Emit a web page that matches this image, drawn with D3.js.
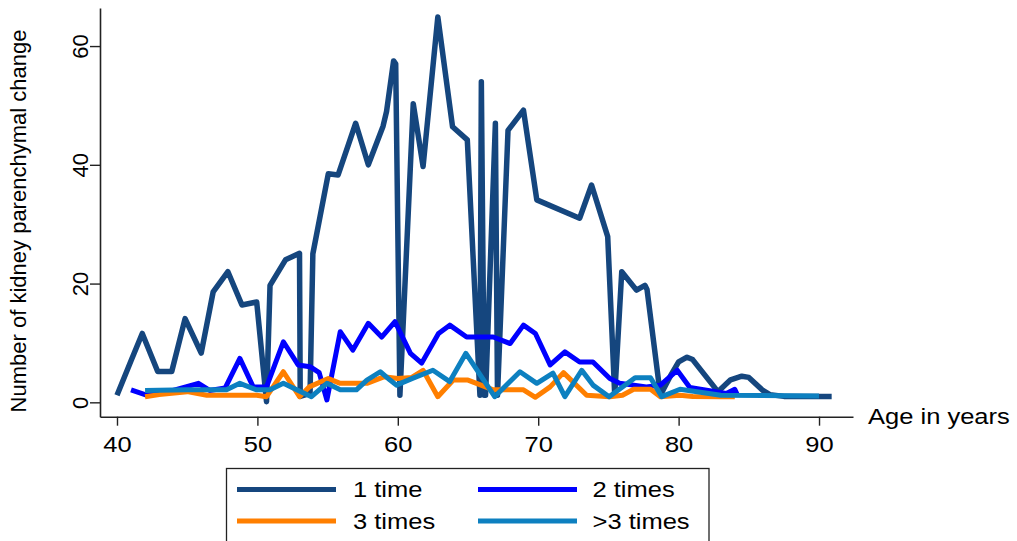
<!DOCTYPE html>
<html>
<head>
<meta charset="utf-8">
<script src="https://cdn.jsdelivr.net/npm/d3@7"></script>
<style>
  html, body { margin: 0; padding: 0; background: #ffffff; }
  svg { display: block; font-family: "Liberation Sans", Arial, Helvetica, sans-serif; }
</style>
</head>
<body>
<svg id="chart" width="1017" height="541"></svg>
<script>
// ---- data ----
const seriesNames = ["1 time", "2 times", "3 times", ">3 times"];

const ages1 = [40, 41, 41.8, 42.9, 43.9, 44.85, 46.0, 46.85, 47.9, 48.9, 49.95, 50.65, 50.9, 52.0, 53.0, 53.05, 53.75, 53.95, 55.05, 55.75, 57.0, 57.9, 58.95, 59.2, 59.7, 59.85, 60.15, 61.1, 61.8, 62.85, 63.9, 64.95, 65.85, 65.95, 66.15, 66.25, 66.95, 67.1, 67.85, 68.95, 69.9, 72.95, 73.8, 74.95, 75.45, 75.95, 77.0, 77.6, 77.75, 78.7, 79.5, 80.0, 80.6, 81.0, 82.8, 83.7, 84.5, 85.0, 86.0, 86.5, 87.5, 90.9];
const counts1 = [1.2, 7, 11.6, 5.2, 5.2, 14.1, 8.3, 18.6, 22, 16.4, 16.9, 0.1, 19.7, 24, 25.1, 1, 1.5, 25, 38.5, 38.3, 47, 40, 46.5, 49, 57.5, 57, 1.2, 50.3, 39.7, 64.9, 46.4, 44.2, 1.2, 54, 1.2, 1.2, 47, 1.2, 45.8, 49.2, 34.1, 31, 36.6, 27.9, 1.2, 22, 18.9, 19.7, 19, 1.2, 4.8, 6.8, 7.6, 7.2, 1.8, 3.8, 4.4, 4.2, 2, 1.3, 1, 1];

const ages2 = [41, 42.1, 44, 45.8, 46.6, 47.7, 48.75, 49.7, 50.65, 51.85, 52.9, 53.75, 54.4, 54.95, 55.9, 56.8, 57.9, 58.85, 59.8, 60.9, 61.7, 62.9, 63.7, 64.9, 66.8, 68.0, 68.95, 69.8, 70.85, 71.9, 72.95, 73.9, 75.1, 75.8, 77.7, 78.7, 79.9, 80.8, 83.4, 84.0, 84.2];
const counts2 = [2.1, 1.2, 2, 3.2, 2, 2.4, 7.4, 2.6, 2.6, 10.2, 6.3, 6, 5, 0.4, 11.9, 8.8, 13.3, 11, 13.6, 8.25, 6.6, 11.6, 13, 11, 11, 9.9, 13, 11.6, 6.3, 8.5, 6.8, 6.8, 4, 3.2, 2.6, 2.9, 5.4, 2.5, 1.5, 2.2, 1.2];

const ages3 = [42, 43, 45, 46.4, 49.95, 50.65, 51.85, 53.0, 53.7, 55.05, 55.9, 57.8, 59, 60, 61, 61.8, 62.85, 63.95, 65, 66.8, 68.95, 69.8, 70.85, 71.8, 73.45, 75.1, 76, 76.8, 78, 78.7, 80.1, 81, 83, 84];
const counts3 = [0.95, 1.3, 1.8, 1.2, 1.2, 0.95, 5.15, 0.95, 2.6, 4, 3.2, 3.2, 4.3, 4, 4.2, 5.4, 0.95, 3.75, 3.75, 2.1, 2.1, 0.85, 2.6, 5, 1.2, 0.95, 1.2, 2.2, 2.2, 0.95, 1.2, 1.0, 0.95, 0.95];

const ages4 = [42, 45, 47.8, 48.75, 49.95, 50.9, 51.85, 52.8, 53.85, 54.95, 55.9, 57.05, 57.8, 58.75, 59.45, 59.9, 61, 62.5, 63.7, 64.85, 66.9, 68.7, 69.9, 71.05, 71.9, 73.1, 73.9, 75.05, 76.9, 78, 78.8, 80.1, 83, 90];
const counts4 = [2, 2.1, 2.1, 3.2, 2.1, 2.1, 3.2, 2.1, 0.95, 3.2, 2.1, 2.1, 3.75, 5.15, 3.75, 2.9, 4, 5.4, 3.5, 8.25, 0.95, 5.15, 3.2, 4.9, 0.95, 5.4, 2.9, 0.95, 4.15, 4.15, 0.95, 2.2, 1.2, 1.05];

const xTicks = [40, 50, 60, 70, 80, 90];
const yTicks = [0, 20, 40, 60];
const xTitle = "Age in years";
const yTitle = "Number of kidney parenchymal change";

// ---- styling ----
const colors = ["#15467e", "#0000ff", "#ff7f00", "#0d80c0"];
const widths = [5.5, 5, 5, 5];
const stretch = 1.16;

const svg = d3.select("#chart");

const x = d3.scaleLinear().domain([38.79, 92.42]).range([100, 853]);
const y = d3.scaleLinear().domain([-2.42, 66.41]).range([416.7, 8]);

const series = [
  {name: seriesNames[0], ages: ages1, counts: counts1, color: colors[0], w: widths[0]},
  {name: seriesNames[1], ages: ages2, counts: counts2, color: colors[1], w: widths[1]},
  {name: seriesNames[2], ages: ages3, counts: counts3, color: colors[2], w: widths[2]},
  {name: seriesNames[3], ages: ages4, counts: counts4, color: colors[3], w: widths[3]}
];

const line = d3.line().x(d => x(d[0])).y(d => y(d[1])).curve(d3.curveLinear);

// drawn in legend order: later series on top
series.forEach(s => {
  svg.append("path")
    .datum(s.ages.map((a, k) => [a, s.counts[k]]))
    .attr("fill", "none")
    .attr("stroke", s.color)
    .attr("stroke-width", s.w)
    .attr("stroke-linejoin", "round")
    .attr("stroke-linecap", "butt")
    .attr("d", line);
});

// ---- axes ----
const xAxis = svg.append("g")
  .attr("transform", "translate(0,416.7)")
  .call(d3.axisBottom(x).tickValues(xTicks).tickSize(9).tickPadding(10.5).tickSizeOuter(0).tickFormat(d3.format("d")));
xAxis.select(".domain").attr("stroke", "#222").attr("stroke-width", 1.6);
xAxis.selectAll(".tick line").attr("stroke", "#222").attr("stroke-width", 1.4);
xAxis.selectAll(".tick text")
  .attr("font-size", 22).attr("fill", "#000")
  .attr("font-family", "Liberation Sans, Arial, sans-serif")
  .attr("transform", `scale(${stretch},1)`);

const yAxis = svg.append("g")
  .attr("transform", "translate(100,0)")
  .call(d3.axisLeft(y).tickValues(yTicks).tickSize(10).tickSizeOuter(0).tickFormat(d3.format("d")));
yAxis.select(".domain").attr("stroke", "#222").attr("stroke-width", 1.6);
yAxis.selectAll(".tick line").attr("stroke", "#222").attr("stroke-width", 1.4);
yAxis.selectAll(".tick text")
  .attr("font-size", 22).attr("fill", "#000")
  .attr("font-family", "Liberation Sans, Arial, sans-serif")
  .attr("text-anchor", "middle")
  .attr("x", 0).attr("y", -12).attr("dy", 0)
  .attr("transform", "rotate(-90)");

// axis titles
svg.append("text")
  .attr("transform", `translate(868,423.5) scale(${stretch},1)`)
  .attr("font-size", 22).attr("fill", "#000")
  .text(xTitle);

svg.append("text")
  .attr("transform", "translate(26,221) rotate(-90)")
  .attr("text-anchor", "middle")
  .attr("font-size", 22).attr("fill", "#000")
  .text(yTitle);

// ---- legend ----
const legend = svg.append("g");
legend.append("rect")
  .attr("x", 226.5).attr("y", 468.5).attr("width", 482.5).attr("height", 90)
  .attr("fill", "#fff").attr("stroke", "#222").attr("stroke-width", 1.3);

const legPos = [
  {lx: 237, ty: 489.5, tx: 353, by: 497.3},
  {lx: 478, ty: 489.5, tx: 592.5, by: 497.3},
  {lx: 237, ty: 521, tx: 353, by: 529},
  {lx: 478, ty: 521, tx: 592.5, by: 529}
];
series.forEach((s, i) => {
  const p = legPos[i];
  legend.append("line")
    .attr("x1", p.lx).attr("x2", p.lx + 99)
    .attr("y1", p.ty).attr("y2", p.ty)
    .attr("stroke", s.color).attr("stroke-width", 5);
  legend.append("text")
    .attr("transform", `translate(${p.tx},${p.by}) scale(${stretch},1)`)
    .attr("font-size", 22).attr("fill", "#000")
    .text(s.name);
});
</script>
</body>
</html>
